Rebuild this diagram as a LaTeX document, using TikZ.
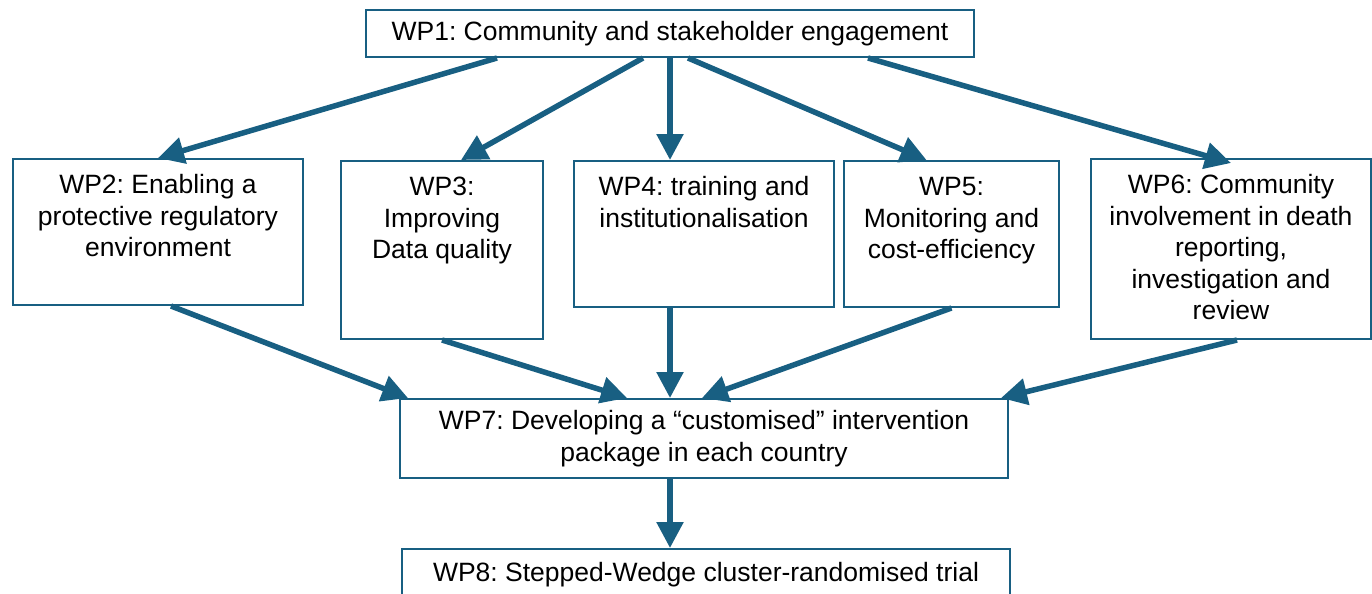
\documentclass[tikz,border=0pt]{standalone}
\usepackage{fontspec}
\setmainfont{Liberation Sans}
\usetikzlibrary{arrows.meta}
\definecolor{wpblue}{RGB}{24,95,130}
\frenchspacing

\begin{document}
\begin{tikzpicture}[x=0.5pt,y=-0.5pt,font=\fontsize{13.25}{15.75}\selectfont,
    wp/.style={draw=wpblue,line width=1pt,inner xsep=4pt,inner ysep=0pt,align=center,anchor=north west},
    wptop/.style n args={3}{wp,minimum width=#1,text height=#2,text depth=#3},
    flow/.style={draw,color=wpblue,line width=2.75pt,-{Triangle[length=13pt,width=13pt]}}]
            \useasboundingbox (0,0) rectangle (1372,594);
            \node[wp,anchor=center,minimum width=304pt,minimum height=23.5pt](wp1)at(670, 33.5){WP1: Community and stakeholder engagement};
            \node[wptop={145pt}{48.75pt}{24.25pt}](wp2)at(12, 158){WP2: Enabling a\\protective regulatory\\environment};
            \node[wptop={101pt}{48.75pt}{40.25pt}](wp3)at(340, 160){WP3:\\Improving\\Data quality};
            \node[wptop={130pt}{33pt}{40pt}](wp4)at(573, 160){WP4: training and\\institutionalisation};
            \node[wptop={107.5pt}{48.75pt}{24.25pt}](wp5)at(843, 160){WP5:\\Monitoring and\\cost-efficiency};
            \node[wptop={140pt}{80.25pt}{9.75pt}](wp6)at(1090, 158){WP6: Community\\involvement in death\\reporting,\\investigation and\\review};
            \node[wp,anchor=center,minimum width=304pt,minimum height=39.5pt](wp7)at(704, 438.5){WP7: Developing a “customised” intervention\\package in each country};
            \node[wp,anchor=center,minimum width=304pt,minimum height=26pt](wp8)at(706, 575){WP8: Stepped-Wedge cluster-randomised trial};
            \path[every edge/.style=flow]([xshift=-86.5pt]wp1.south) edge (wp2.north)
            ([xshift=-13.5pt]wp1.south) edge ([xshift=9.5pt]wp3.north)
            (wp1.south) edge (wp1.south |- wp4.north)
            ([xshift=9pt]wp1.south) edge ([xshift=-12.5pt]wp5.north)
            ([xshift=99pt]wp1.south) edge ([yshift=-2.5pt]wp6.north)
            ([xshift=6.5pt]wp2.south) edge ([xshift=-148pt]wp7.north)
            (wp3.south) edge ([xshift=-38.5pt]wp7.north)
            (wp1.south |- wp4.south) edge (wp1.south |- wp7.north)
            (wp5.south) edge ([xshift=-1pt]wp7.north)
            ([xshift=3pt]wp6.south) edge ([xshift=-4pt]wp7.north east)
            (wp1.south |- wp7.south) edge (wp1.south |- wp8.north);
        \end{tikzpicture}
\end{document}
